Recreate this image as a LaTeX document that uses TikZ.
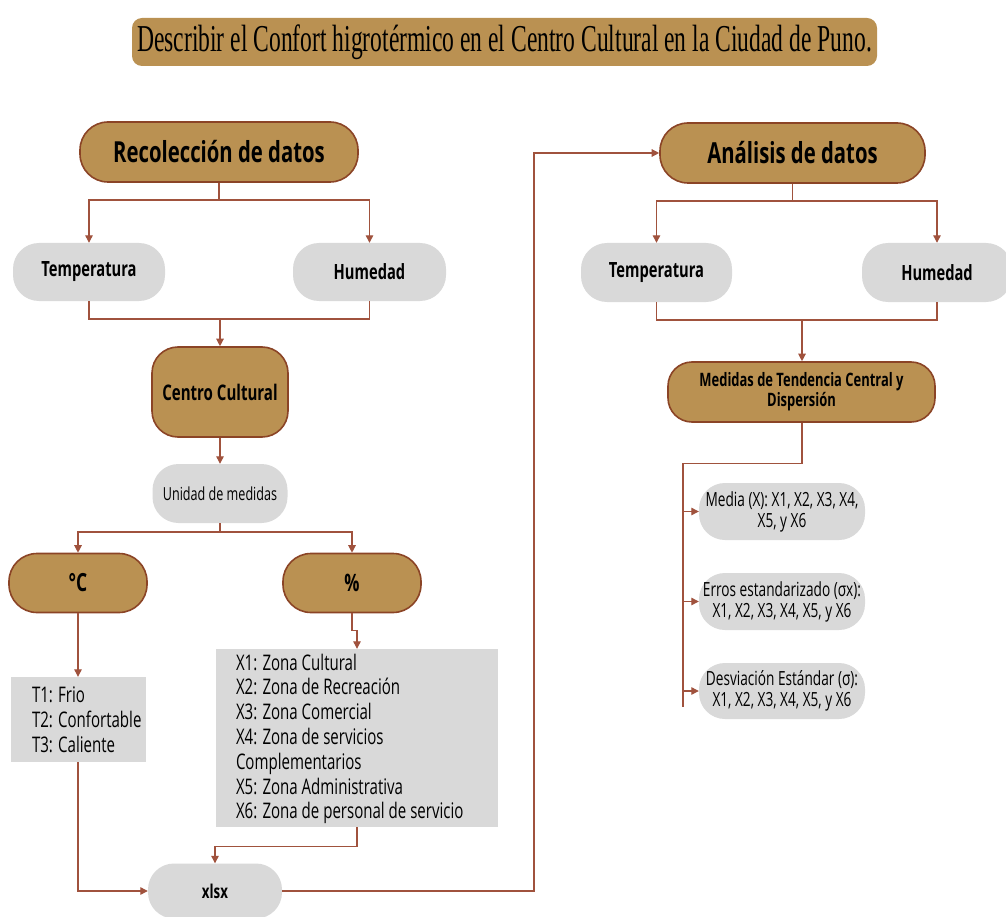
\documentclass[tikz,border=0pt]{standalone}
\usepackage{fontspec}
\setmainfont[FakeStretch=0.7]{Open Sans}
\newfontfamily\titlefont[FakeStretch=0.62]{Liberation Serif}
\usetikzlibrary{arrows.meta}
\definecolor{gold}{HTML}{BA9152}
\definecolor{rim}{HTML}{8B4426}
\definecolor{wire}{HTML}{A0523D}
\definecolor{pale}{HTML}{D9D9D9}
\tikzset{
  goldbox/.style={draw=rim, line width=1.6pt, fill=gold, align=center, inner sep=0pt},
  greybox/.style={fill=pale, align=center, inner sep=0pt},
  listbox/.style={fill=pale, inner sep=0pt},
  listtext/.style={align=left, inner sep=0pt, font={\fontsize{21.5}{24.8}\selectfont}},
  wireline/.style={draw=wire, line width=1.2pt},
  wirearrow/.style={wireline, -{Triangle[length=7.5pt,width=7.5pt]}},
  headfont/.style={font={\bfseries\fontsize{29}{34}\selectfont}},
  itemfont/.style={font={\bfseries\fontsize{21}{24}\selectfont}},
  notefont/.style={font={\fontsize{19.5}{21}\selectfont}},
}
\begin{document}
\begin{tikzpicture}[x=1pt,y=-1pt]
\useasboundingbox (0,0) rectangle (1006,917);
\fill[white] (0,0) rectangle (1006,917);

% heading banner
\node[fill=gold, rounded corners=10pt, minimum width=745pt, minimum height=48pt, inner sep=0pt,
      font={\titlefont\fontsize{38}{42}\selectfont}] (title) at (504.5,42) {Describir el Confort higrotérmico en el Centro Cultural en la Ciudad de Puno.};

% left branch: data collection
\node[goldbox, headfont, rounded corners=28pt, minimum width=278pt, minimum height=60pt] (rec) at (219,152) {Recolección de datos};
\node[greybox, itemfont, rounded corners=26pt, minimum width=152pt, minimum height=58pt] (t1) at (89,272) {Temperatura};
\node[greybox, itemfont, rounded corners=26pt, minimum width=153pt, minimum height=58pt] (h1) at (369.5,272) {Humedad};
\node[goldbox, rounded corners=26pt, minimum width=136pt, minimum height=90pt, font={\bfseries\fontsize{21.5}{24}\selectfont}] (cc) at (220,392) {Centro Cultural};
\node[greybox, rounded corners=26pt, minimum width=135pt, minimum height=59pt, font={\fontsize{18}{21}\selectfont}] (um) at (220,493.5) {Unidad de medidas};
\node[goldbox, rounded corners=28pt, minimum width=138pt, minimum height=59pt, font={\bfseries\fontsize{25}{28}\selectfont}] (degc) at (78,583) {°C};
\node[goldbox, rounded corners=28pt, minimum width=138pt, minimum height=59pt, font={\bfseries\fontsize{24}{28}\selectfont}] (pct) at (352,583) {\%};

\node[listbox, minimum width=135pt, minimum height=85pt] (tlist) at (78.5,719.5) {};
\node[listtext, anchor=west] (tlisttext) at ([xshift=21pt]tlist.west) {T1: Frio\\T2: Confortable\\T3: Caliente};

\node[listbox, minimum width=282pt, minimum height=178pt] (zlist) at (357,738) {};
\node[listtext, anchor=west] (zlisttext) at ([xshift=20pt,yshift=-1pt]zlist.west) {X1: Zona Cultural\\X2: Zona de Recreación\\X3: Zona Comercial\\X4: Zona de servicios\\Complementarios\\X5: Zona Administrativa\\X6: Zona de personal de servicio};

\node[greybox, rounded corners=26pt, minimum width=134pt, minimum height=55pt, font={\bfseries\fontsize{19}{22}\selectfont}] (xlsx) at (215,891) {xlsx};

% right branch: data analysis
\node[goldbox, headfont, rounded corners=28pt, minimum width=265pt, minimum height=60pt] (an) at (792.5,153) {Análisis de datos};
\node[greybox, itemfont, rounded corners=26pt, minimum width=151pt, minimum height=59pt] (t2) at (656.5,272.5) {Temperatura};
\node[greybox, itemfont, rounded corners=26pt, minimum width=150pt, minimum height=59pt] (h2) at (937,272.5) {Humedad};
\node[goldbox, rounded corners=24pt, minimum width=267pt, minimum height=60pt, font={\bfseries\fontsize{18.5}{20}\selectfont}] (med) at (801.5,392) {Medidas de Tendencia Central y\\Dispersión};

\node[greybox, notefont, rounded corners=26pt, minimum width=166pt, minimum height=57pt] (m1) at (782,511.5) {Media (X): X1, X2, X3, X4,\\X5, y X6};
\node[greybox, notefont, rounded corners=26pt, minimum width=166pt, minimum height=57pt] (m2) at (782,601.5) {Erros estandarizado (σx):\\X1, X2, X3, X4, X5, y X6};
\node[greybox, notefont, rounded corners=26pt, minimum width=166pt, minimum height=56pt] (m3) at (782,691) {Desviación Estándar (σ):\\X1, X2, X3, X4, X5, y X6};

% junction points of the connectors
\coordinate (j1) at (219,200);
\coordinate (j2) at (220,319);
\coordinate (j3) at (220,532);
\coordinate (k) at (534,891);
\coordinate (j4) at (792.5,201);
\coordinate (j5) at (802,320);
\coordinate (spine) at (683,707);

% connectors, left branch
\draw[wirearrow] (rec.south) -- (j1) -| (t1.north);
\draw[wirearrow] (j1) -| (h1.north);
\draw[wireline] (t1.south) |- (j2) -| (h1.south);
\draw[wirearrow] (j2) -- (cc.north);
\draw[wirearrow] (cc.south) -- (um.north);
\draw[wirearrow] (um.south) -- (j3) -| (degc.north);
\draw[wirearrow] (j3) -| (pct.north);
\draw[wirearrow] (degc.south) -- (tlist.north -| degc.south);
\draw[wirearrow] (pct.south) -- ++(0,17) -| (zlist.north);
\draw[wirearrow] (zlist.south) -- ++(0,19) -| (xlsx.north);
\draw[wirearrow] (tlist.south -| degc.south) |- (xlsx.west);
\draw[wirearrow] (xlsx.east) -- (k) |- (an.west);

% connectors, right branch
\draw[wirearrow] (an.south) -- (j4) -| (t2.north);
\draw[wirearrow] (j4) -| (h2.north);
\draw[wireline] (t2.south) |- (j5) -| (h2.south);
\draw[wirearrow] (j5) -- (med.north -| j5);
\draw[wireline] (med.south -| j5) -- ++(0,41) -| (spine);
\draw[wirearrow] (m1.west -| spine) -- (m1.west);
\draw[wirearrow] (m2.west -| spine) -- (m2.west);
\draw[wirearrow] (m3.west -| spine) -- (m3.west);
\end{tikzpicture}
\end{document}
